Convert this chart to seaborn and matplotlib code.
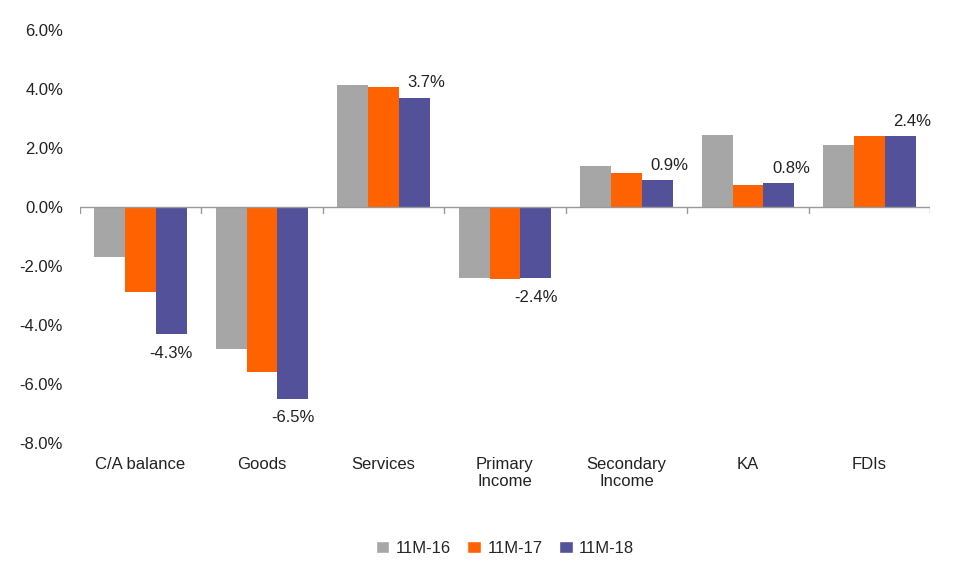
import numpy as np
import pandas as pd
import matplotlib.pyplot as plt
import seaborn as sns

categories = ["C/A balance", "Goods", "Services", "Primary\nIncome", "Secondary\nIncome", "KA", "FDIs"]
series = ["11M-16", "11M-17", "11M-18"]
v16 = [-1.7, -4.8, 4.15, -2.4, 1.38, 2.43, 2.1]
v17 = [-2.9, -5.6, 4.05, -2.45, 1.15, 0.75, 2.4]
v18 = [-4.3, -6.5, 3.7, -2.4, 0.9, 0.8, 2.4]
labels18 = ["-4.3%", "-6.5%", "3.7%", "-2.4%", "0.9%", "0.8%", "2.4%"]

df = pd.DataFrame({"cat": categories * 3,
                   "series": sum([[s] * len(categories) for s in series], []),
                   "val": v16 + v17 + v18})

sns.set_style("white")
plt.rcParams['font.family'] = ['Liberation Sans', 'DejaVu Sans']
fig, ax = plt.subplots(figsize=(9.6, 5.76), dpi=100)
colors = ["#a6a6a6", "#ff6200", "#525199"]
sns.barplot(data=df, x="cat", y="val", hue="series", palette=colors, ax=ax,
            width=0.76, saturation=1)
for c in ax.containers:
    for b in c:
        b.set_edgecolor("none")

# labels on the last series
purple = ax.containers[2]
for bar, v, lab in zip(purple, v18, labels18):
    x = bar.get_x() + bar.get_width() / 2
    if v >= 0:
        ax.text(x + 0.1, v + 0.25, lab, ha="center", va="bottom", fontsize=12, color="#222222")
    else:
        ax.text(x, v - 0.4, lab, ha="center", va="top", fontsize=12, color="#222222")

ax.set_ylim(-8, 6)
ax.set_yticks(np.arange(-8, 7, 2))
ax.set_yticklabels([f"{t:.1f}%" for t in np.arange(-8, 7, 2)], fontsize=12, color="#222222")
ax.set_xlim(-0.5, 6.5)
ax.set_xlabel("")
ax.set_ylabel("")
ax.tick_params(axis="x", labelsize=12, colors="#222222", length=0, pad=10)
ax.tick_params(axis="y", length=0, pad=12)
for s in ax.spines.values():
    s.set_visible(False)
ax.axhline(0, color="#999999", linewidth=1)
for i in range(8):
    ax.plot([i - 0.5, i - 0.5], [0, -0.2], color="#999999", linewidth=1)

ax.legend(loc="upper center", bbox_to_anchor=(0.5, -0.2), ncol=3, frameon=False,
          fontsize=12, handlelength=0.8, handleheight=0.8, columnspacing=1.0, handletextpad=0.4)
plt.subplots_adjust(left=0.083, right=0.969, top=0.948, bottom=0.231)
plt.savefig("out.png", dpi=100)
